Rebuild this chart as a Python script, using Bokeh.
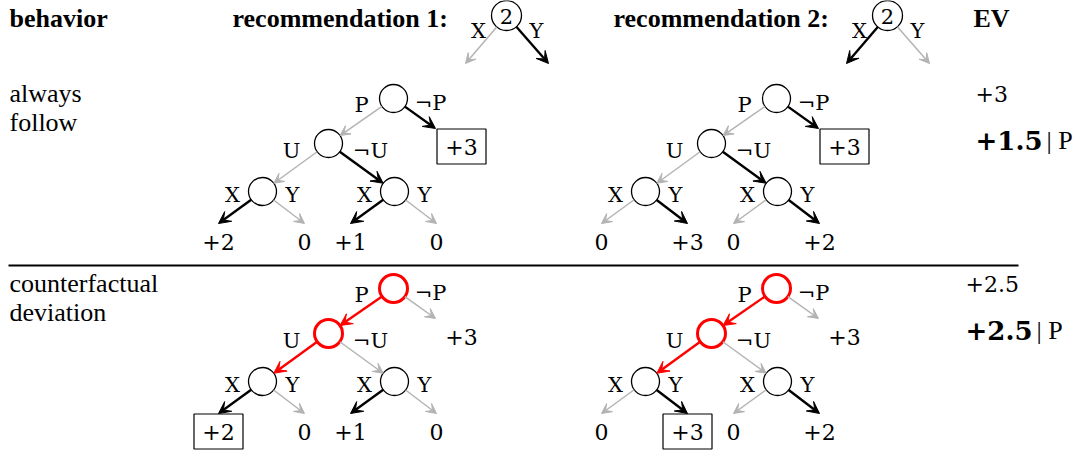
from bokeh.plotting import figure
from bokeh.models import Range1d, ColumnDataSource, Arrow, VeeHead
from bokeh.core.properties import value
from bokeh.embed import file_html
from bokeh.resources import INLINE

# ---------------- data ----------------
behavior_header = "behavior"
ev_header = "EV"
behaviors = [["always", "follow"], ["counterfactual", "deviation"]]
recommendations = ["recommendation 1:", "recommendation 2:"]
header_node_label = "2"
recommended_action = ["Y", "X"]          # highlighted branch at the header node
p_labels = ["P", "\u00acP"]
u_labels = ["U", "\u00acU"]
xy_labels = ["X", "Y"]
not_p_payoff = [3, 3]                     # payoff after ¬P, per recommendation
leaf_payoffs = [[2, 0, 1, 0],             # rec 1: (U,X) (U,Y) (¬U,X) (¬U,Y)
                [0, 3, 0, 2]]             # rec 2
xy_choice = ["X", "Y"]                    # action taken at X/Y nodes, per recommendation
behavior_deviates = [False, True]         # follow (¬P, ¬U) vs deviate (P, U)
ev_total = ["+3", "+2.5"]
ev_given_p = ["+1.5", "+2.5"]
ev_condition = "| P"

# ---------------- layout / style ----------------
SERIF = value("Liberation Serif")
MATH = value("DejaVu Serif")
W, H = 1075, 456
COL_ROOT_X = [393, 776]
ROW_ROOT_Y = [98, 288]
HEADER_NODE = [(506, 15), (887, 15)]
REC_X = [232, 613]
EV_X = [975, 965]
R = 14
GRAY = "#b3b3b3"
RED = "#ff0000"


def fmt(v):
    return "+%d" % v if v > 0 else "0"


def add(pt, d):
    return (pt[0] + d[0], pt[1] + d[1])


def clip(a, b, ra, rb):
    dx, dy = b[0] - a[0], b[1] - a[1]
    L = (dx * dx + dy * dy) ** 0.5
    ux, uy = dx / L, dy / L
    return (a[0] + ux * ra, a[1] + uy * ra, b[0] - ux * rb, b[1] - uy * rb)


edges = {"black": [], "gray": [], "red": []}
circles = dict(x=[], y=[], r=[], lc=[], lw=[])
labels = dict(x=[], y=[], t=[])
payoffs = dict(x=[], y=[], t=[])
boxes = dict(x=[], y=[])

# header nodes
for c in range(2):
    node = HEADER_NODE[c]
    circles["x"].append(node[0]); circles["y"].append(node[1]); circles["r"].append(15)
    circles["lc"].append("black"); circles["lw"].append(1.3)
    for j, act in enumerate(xy_labels):
        tip = add(node, (-41, 48) if j == 0 else (42, 48))
        col = "black" if act == recommended_action[c] else "gray"
        edges[col].append(clip(node, tip, 15, 0))
        lp = add(node, (-28, 15) if j == 0 else (30, 15))
        labels["x"].append(lp[0]); labels["y"].append(lp[1]); labels["t"].append(act)

# trees
for r in range(2):
    dev = behavior_deviates[r]
    for c in range(2):
        root = (COL_ROOT_X[c], ROW_ROOT_Y[r])
        un = add(root, (-65, 45))
        nptip = add(root, (42, 30))
        xyn = [add(un, (-66, 48)), add(un, (66, 48))]
        edges["red" if dev else "gray"].append(clip(root, un, R, R))
        edges["gray" if dev else "black"].append(clip(root, nptip, R, 0))
        edges["red" if dev else "gray"].append(clip(un, xyn[0], R, R))
        edges["gray" if dev else "black"].append(clip(un, xyn[1], R, R))
        for pt, lab in ((add(root, (-32, 6)), p_labels[0]), (add(root, (37, 4)), p_labels[1]),
                        (add(un, (-37, 7)), u_labels[0]), (add(un, (42, 7)), u_labels[1])):
            labels["x"].append(pt[0]); labels["y"].append(pt[1]); labels["t"].append(lab)
        for node in (root, un):
            circles["x"].append(node[0]); circles["y"].append(node[1]); circles["r"].append(R)
            circles["lc"].append(RED if dev else "black"); circles["lw"].append(3 if dev else 1.3)
        # ¬P leaf
        lp = add(nptip, (26, 18))
        payoffs["x"].append(lp[0]); payoffs["y"].append(lp[1]); payoffs["t"].append(fmt(not_p_payoff[c]))
        if not dev:
            boxes["x"].append(lp[0]); boxes["y"].append(lp[1])
        for k, node in enumerate(xyn):
            circles["x"].append(node[0]); circles["y"].append(node[1]); circles["r"].append(R)
            circles["lc"].append("black"); circles["lw"].append(1.3)
            for j, act in enumerate(xy_labels):
                tip = add(node, (-44, 32) if j == 0 else (42, 32))
                chosen = act == xy_choice[c]
                edges["black" if chosen else "gray"].append(clip(node, tip, R, 0))
                lab = add(node, (-30, 3) if j == 0 else (30, 3))
                labels["x"].append(lab[0]); labels["y"].append(lab[1]); labels["t"].append(act)
                lp = add(tip, (0, 18))
                payoffs["x"].append(lp[0]); payoffs["y"].append(lp[1])
                payoffs["t"].append(fmt(leaf_payoffs[c][2 * k + j]))
                if dev and k == 0 and chosen:
                    boxes["x"].append(lp[0]); boxes["y"].append(lp[1])

# ---------------- figure ----------------
p = figure(width=W, height=H, output_backend="svg", toolbar_location=None,
           x_range=Range1d(0, W), y_range=Range1d(H, 0),
           min_border=0, outline_line_color=None)
p.axis.visible = False
p.grid.visible = False
p.background_fill_color = "white"
p.border_fill_color = "white"

# separator
p.segment(x0=[8], y0=[265], x1=[1018], y1=[265], line_color="black", line_width=2)

# boxes
p.rect(x="x", y="y", width=49, height=35, source=ColumnDataSource(boxes),
       fill_color=None, line_color="black", line_width=1.2)

# edges
styles = {"black": ("black", 2.4, 12), "gray": (GRAY, 1.5, 10), "red": (RED, 2.4, 12)}
for key, segs in edges.items():
    if not segs:
        continue
    col, lw, hs = styles[key]
    src = ColumnDataSource(dict(x0=[s[0] for s in segs], y0=[s[1] for s in segs],
                                x1=[s[2] for s in segs], y1=[s[3] for s in segs]))
    p.add_layout(Arrow(end=VeeHead(size=hs, fill_color=col, line_color=col, line_width=1),
                       x_start="x0", y_start="y0", x_end="x1", y_end="y1", source=src,
                       line_color=col, line_width=lw))

# nodes
p.circle(x="x", y="y", radius="r", source=ColumnDataSource(circles),
         fill_color="white", line_color="lc", line_width="lw")

# header texts
p.text(x=[9] + REC_X + [973], y=[18] * 4,
       text=[behavior_header] + recommendations + [ev_header],
       text_font=SERIF, text_font_style="bold", text_font_size="26px",
       text_align="left", text_baseline="alphabetic")
p.text(x=[n[0] for n in HEADER_NODE], y=[n[1] + 1 for n in HEADER_NODE],
       text=[header_node_label] * 2, text_font=MATH, text_font_size="21px",
       text_align="center", text_baseline="middle")

# edge labels and payoffs
p.text(x="x", y="y", text="t", source=ColumnDataSource(labels), text_font=MATH,
       text_font_size="21px", text_align="center", text_baseline="middle")
p.text(x="x", y="y", text="t", source=ColumnDataSource(payoffs), text_font=MATH,
       text_font_size="22px", text_align="center", text_baseline="middle")

# row labels
rx, ry, rt = [], [], []
for r in range(2):
    for i, line in enumerate(behaviors[r]):
        rx.append(9); ry.append(ROW_ROOT_Y[r] - 5 + 29 * i); rt.append(line)
p.text(x=rx, y=ry, text=rt, text_font=SERIF, text_font_size="26px",
       text_align="left", text_baseline="alphabetic")

# EV column
p.text(x=EV_X, y=[y - 5 for y in ROW_ROOT_Y], text=ev_total, text_font=MATH,
       text_font_size="22px", text_align="left", text_baseline="middle")
p.text(x=EV_X, y=[y + 42 for y in ROW_ROOT_Y], text=ev_given_p,
       text_font=MATH, text_font_style="bold", text_font_size="26px",
       text_align="left", text_baseline="middle")
p.text(x=[x + 71 for x in EV_X], y=[y + 42 for y in ROW_ROOT_Y], text=[ev_condition] * 2,
       text_font=SERIF, text_font_size="26px", text_align="left", text_baseline="middle")

open("out.html", "w").write(file_html(p, INLINE))
